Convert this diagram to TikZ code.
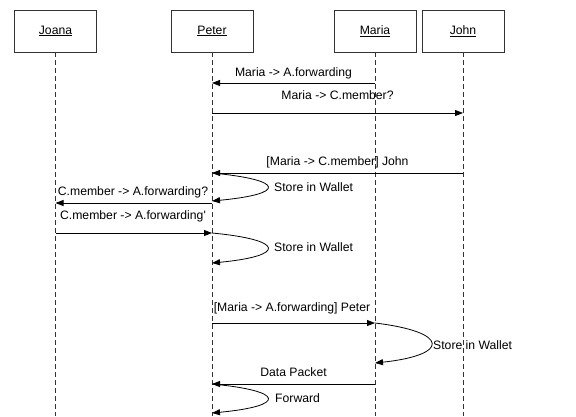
\documentclass[tikz,border=0pt]{standalone}
\usepackage{fontspec}
\setmainfont{Liberation Sans}
\usetikzlibrary{arrows.meta}
\begin{document}
\begin{tikzpicture}[x=1pt,y=-1pt,
  actor/.style={draw=black!80,line width=0.8pt,fill=white,minimum width=82pt,minimum height=42pt,inner sep=0pt,font=\fontsize{12.2}{14}\selectfont},
  life/.style={draw=black!80,line width=0.8pt,dash pattern=on 5pt off 3pt},
  msg/.style={draw=black,line width=0.8pt,-{Triangle[length=8pt,width=6pt]}},
  lbl/.style={font=\fontsize{12.2}{14}\selectfont,inner sep=0pt,anchor=base}]
\useasboundingbox (0,0) rectangle (576,416);
\fill[white] (0,0) rectangle (576,416);
% actors
\node[actor] (joana) at (55.5,31) {\underline{Joana}};
\node[actor] (peter) at (212,31) {\underline{Peter}};
\node[actor] (maria) at (375,31) {\underline{Maria}};
\node[actor] (john) at (463,31) {\underline{John}};
% lifeline ends
\coordinate (joanaE) at (55.5,416);
\coordinate (peterE) at (212,416);
\coordinate (mariaE) at (375,416);
\coordinate (johnE) at (463,416);
\draw[life] (joana.south) -- (joanaE);
\draw[life] (peter.south) -- (peterE);
\draw[life] (maria.south) -- (mariaE);
\draw[life] (john.south) -- (johnE);
% message points
\coordinate (m1a) at (375,83);  \coordinate (m1b) at (212,83);
\coordinate (m2a) at (212,113); \coordinate (m2b) at (463,113);
\coordinate (m3a) at (463,173); \coordinate (m3b) at (212,173);
\coordinate (s1) at (212,201);
\coordinate (m5a) at (212,203); \coordinate (m5b) at (55.5,203);
\coordinate (m6a) at (55.5,233); \coordinate (m6b) at (212,233);
\coordinate (s2) at (212,263);
\coordinate (m8a) at (212,323); \coordinate (m8b) at (375,323);
\coordinate (s3) at (375,363);
\coordinate (m10a) at (375,384); \coordinate (m10b) at (212,384);
\coordinate (s4) at (212,413);
% messages
\draw[msg] (m1a) -- (m1b);
\node[lbl] (l1) at (293.5,76) {Maria -> A.forwarding};
\draw[msg] (m2a) -- (m2b);
\node[lbl] (l2) at (337.5,99) {Maria -> C.member?};
\draw[msg] (m3a) -- (m3b);
\node[lbl] (l3) at (337.5,165) {[Maria -> C.member] John};
\draw[msg] (m3b) .. controls (286,180) and (286,194) .. (s1);
\node[lbl,anchor=base west] (l4) at (274,191) {Store in Wallet};
\draw[msg] (m5a) -- (m5b);
\node[lbl] (l5) at (133,195.5) {C.member -> A.forwarding?};
\draw[msg] (m6a) -- (m6b);
\node[lbl] (l6) at (133,219) {C.member -> A.forwarding\textquotesingle};
\draw[msg] (m6b) .. controls (286,240) and (286,256) .. (s2);
\node[lbl,anchor=base west] (l7) at (274,251) {Store in Wallet};
\draw[msg] (m8a) -- (m8b);
\node[lbl] (l8) at (292,311) {[Maria -> A.forwarding] Peter};
\draw[msg] (m8b) .. controls (450,332) and (450,355) .. (s3);
\node[lbl,anchor=base west] (l9) at (433,349) {Store in Wallet};
\draw[msg] (m10a) -- (m10b);
\node[lbl] (l10) at (293.5,376) {Data Packet};
\draw[msg] (m10b) .. controls (286,391) and (286,406) .. (s4);
\node[lbl,anchor=base west] (l11) at (275,402) {Forward};
\end{tikzpicture}
\end{document}
